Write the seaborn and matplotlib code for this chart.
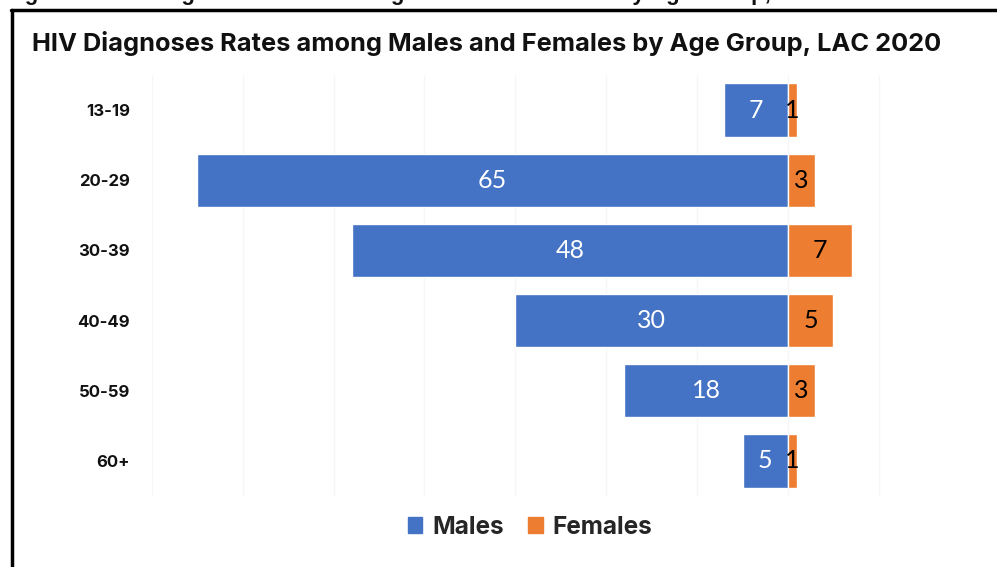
import matplotlib
matplotlib.use("Agg")
import matplotlib.pyplot as plt
import seaborn as sns
import pandas as pd
import numpy as np
from matplotlib.lines import Line2D
from matplotlib.patches import Patch

age_groups = ["13-19", "20-29", "30-39", "40-49", "50-59", "60+"]
males = [7, 65, 48, 30, 18, 5]
females = [1, 3, 7, 5, 3, 1]
title = "HIV Diagnoses Rates among Males and Females by Age Group, LAC 2020"
caption = "Figure 6. HIV Diagnoses Rates among Males and Females by Age Group, LAC 2020"

BLUE = "#4472C4"
ORANGE = "#ED7D31"

sns.set_theme(style="white")
plt.rcParams["font.family"] = ["Inter", "DejaVu Sans"]

df = pd.DataFrame({"age": age_groups,
                   "Males": [-m for m in males],
                   "Females": females})

W, H = 997, 567
fig = plt.figure(figsize=(W / 100, H / 100), dpi=100)
ppu = 9.09
x0 = 788
xmin, xmax = -70, 20
left = x0 + xmin * ppu
right = x0 + xmax * ppu
top, bottom = 75, 496
ax = fig.add_axes([left / W, 1 - bottom / H, (right - left) / W, (bottom - top) / H])

sns.barplot(data=df, y="age", x="Males", color=BLUE, orient="h",
            width=0.76, ax=ax, saturation=1, zorder=3)
sns.barplot(data=df, y="age", x="Females", color=ORANGE, orient="h",
            width=0.76, ax=ax, saturation=1, zorder=3)

cont_m = ax.containers[0]
cont_f = ax.containers[1]
ax.bar_label(cont_m, labels=[str(v) for v in males], label_type="center",
             color="white", fontsize=18, family="Lato")
ax.bar_label(cont_f, labels=[str(v) for v in females], label_type="center",
             color="black", fontsize=18, family="Lato")

ax.set_xlim(xmin, xmax)
ax.set_ylim(5.5, -0.5)
ax.set_xlabel("")
ax.set_ylabel("")
ax.set_xticks(np.arange(-70, 21, 10))
ax.set_xticklabels([])
ax.tick_params(axis="x", length=0)
ax.xaxis.grid(True, color="#f6f6f6", linewidth=1, zorder=0)
ax.set_axisbelow(True)
for s in ax.spines.values():
    s.set_visible(False)
ax.tick_params(axis="y", length=0, pad=15.5)
for lab in ax.get_yticklabels():
    lab.set_fontweight("bold")
    lab.set_fontsize(12)
    lab.set_color("#111111")

fig.text(32 / W, 1 - 43 / H, title, fontsize=18.3, fontweight="bold",
         ha="left", va="center", color="#111111")
fig.text(5 / W, 1 - 0 / H, caption, fontsize=16, fontweight="bold",
         ha="left", va="baseline", color="#111111", family="Liberation Sans")

fig.add_artist(Line2D([11.5 / W, 11.5 / W], [0, 1 - 10 / H], color="black", lw=2.5,
                      transform=fig.transFigure))
fig.add_artist(Line2D([10.5 / W, 1], [1 - 10 / H, 1 - 10 / H], color="black", lw=2.5,
                      transform=fig.transFigure))

handles = [Patch(color=BLUE, label="Males"), Patch(color=ORANGE, label="Females")]
fig.legend(handles=handles, loc="center", bbox_to_anchor=(530 / W, 1 - 527 / H),
           ncol=2, frameon=False, handlelength=0.6, handleheight=0.6,
           handletextpad=0.4, columnspacing=1.0,
           prop={"weight": "bold", "size": 17.5})

fig.savefig("out.png", dpi=100)
